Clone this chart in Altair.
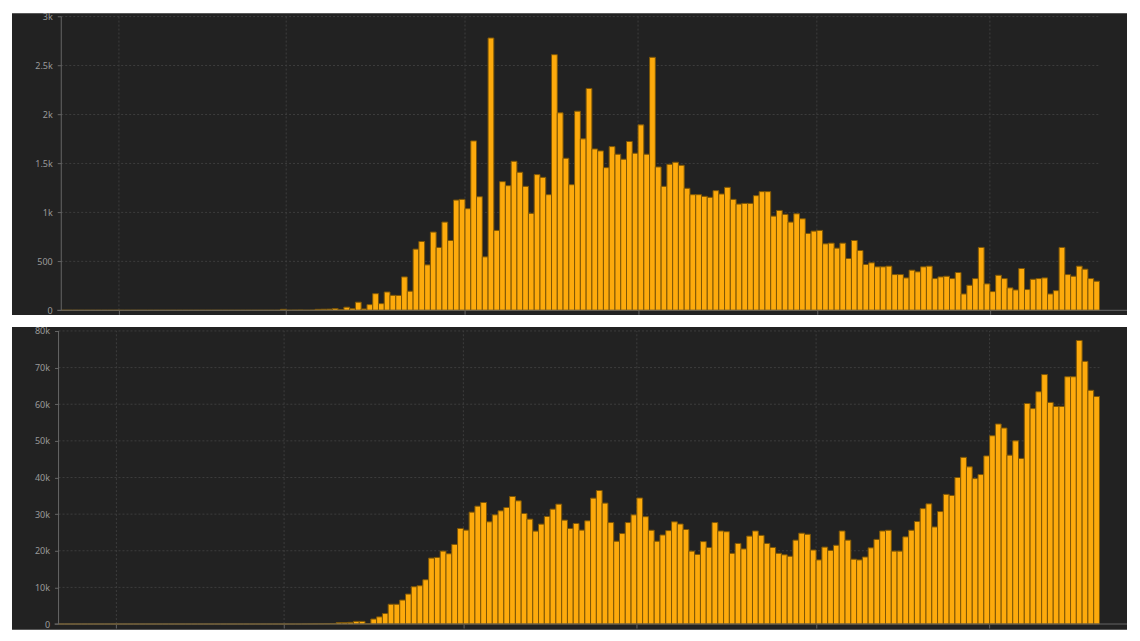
import altair as alt
import pandas as pd

# ---------------- data ----------------
START = "2020-01-22"

deaths = (
    [0] * 38
    + [10, 1, 2, 3, 1, 2, 10, 11, 12, 18, 7, 32, 17, 83, 14, 58, 170, 68, 187, 153,
       152, 341, 195, 625, 703, 464, 799, 642, 901, 713, 1126, 1133, 1038, 1730, 1160, 546, 2781, 816, 1314, 1273,
       1522, 1410, 1266, 990, 1386, 1358, 1181, 2611, 2017, 1553, 1283, 2034, 1751, 2266, 1648, 1628, 1457, 1672, 1594, 1543,
       1724, 1604, 1894, 1594, 2584, 1464, 1266, 1491, 1512, 1481, 1246, 1181, 1181, 1164, 1154, 1222, 1188, 1256, 1133, 1085,
       1092, 1092, 1171, 1212, 1212, 962, 1020, 980, 901, 986, 935, 785, 809, 816, 679, 686, 635, 686, 529, 713,
       611, 468, 485, 444, 444, 451, 365, 365, 331, 410, 393, 444, 451, 324, 341, 348, 324, 386, 167, 256,
       324, 642, 270, 191, 358, 324, 229, 208, 427, 212, 317, 324, 331, 167, 201, 642, 365, 348, 451, 420,
       324, 297]
)

cases = (
    [0] * 42
    + [20, 30, 50, 60, 100, 150,
       364, 364, 455, 727, 727, 91, 1364, 1950, 2860, 5400, 5400, 6545, 8181, 10181, 10454, 12090, 18000, 18180, 19907, 19180,
       21725, 26088, 25634, 30542, 32178, 33178, 27906, 29815, 30906, 31815, 34815, 33633, 30179, 28634, 25361, 27270, 29361, 31361,
       32724, 28361, 26088, 27452, 25634, 28179, 34360, 36451, 33000, 27700, 22600, 24700, 27700, 29800, 34400, 29300, 25600, 22600,
       24300, 25500, 27900, 27300, 25800, 19900, 19000, 22500, 20900, 27700, 25400, 25200, 19300, 22000, 20500, 24000, 25400, 24200,
       22000, 20900, 19300, 18900, 18500, 22900, 24800, 24500, 20200, 17500, 21000, 20100, 21500, 25400, 22900, 17700, 17500, 18300,
       20800, 23100, 25400, 25600, 19900, 19900, 23800, 25600, 28000, 31500, 32800, 26500, 30700, 35400, 35100, 40000, 45500, 42900,
       39700, 40800, 45900, 51400, 54600, 53500, 46100, 50000, 45200, 60200, 58800, 63400, 68100, 60500, 59400, 59400, 67500, 67500,
       77400, 71700, 63800, 62100]
)

month_starts = ["2020-02-01", "2020-03-01", "2020-04-01", "2020-05-01", "2020-06-01", "2020-07-01"]
death_ticks = [0, 500, 1000, 1500, 2000, 2500, 3000]
case_ticks = [0, 10000, 20000, 30000, 40000, 50000, 60000, 70000, 80000]

# ---------------- tables ----------------
t0 = pd.Timestamp(START)
n = len(deaths)
dates = pd.date_range(START, periods=n, freq="D")
day = [(d - t0).days for d in dates]
df = pd.DataFrame({
    "date": dates.strftime("%Y-%m-%d"),
    "d0": day,
    "d1": [d + 1 for d in day],
    "deaths": deaths,
    "cases": cases,
})
month_days = [(pd.Timestamp(m) - t0).days for m in month_starts]

BG = "#222222"
BAR = "#FDAA0C"
BAR_STROKE = "#7d5606"
GRID = "#3d3d3d"
AXIS = "#666666"
LABEL = "#9a9a9a"
FONT = "Noto Sans"
KFMT = "datum.value >= 1000 ? format(datum.value / 1000, '~g') + 'k' : format(datum.value, 'd')"


def panel(field, ticks, W, H, x0_px, px_day, zero_px, px_unit):
    xdom = [-x0_px / px_day, (W - x0_px) / px_day]
    ydom = [-(H - zero_px) / px_unit, zero_px / px_unit]
    xs = alt.Scale(domain=xdom, nice=False, zero=False)
    ys = alt.Scale(domain=ydom, nice=False, zero=False)
    top = ticks[-1]

    xaxis = alt.Axis(values=month_days, labels=False, grid=False, domain=False, ticks=True,
                     tickSize=4, tickColor=AXIS, offset=-(H - zero_px), title=None)
    yaxis = alt.Axis(values=ticks, labelExpr=KFMT, grid=False, domain=False, ticks=True,
                     tickSize=4, tickColor=AXIS, labelPadding=5, labelFont=FONT, labelFontSize=9,
                     labelColor=LABEL, offset=-x0_px, title=None)

    grid_h = pd.DataFrame({"v": ticks[1:], "a": 0, "b": n})
    grid_v = pd.DataFrame({"m": month_days, "lo": 0, "hi": top})
    yline = pd.DataFrame({"x": [0], "lo": [0], "hi": [top]})
    xline = pd.DataFrame({"y": [0], "a": [-0.7], "b": [xdom[1]]})

    gh = alt.Chart(grid_h).mark_rule(color=GRID, strokeDash=[2, 2], strokeWidth=1).encode(
        y=alt.Y("v:Q", scale=ys, axis=yaxis),
        x=alt.X("a:Q", scale=xs, axis=xaxis),
        x2="b:Q",
    )
    gv = alt.Chart(grid_v).mark_rule(color=GRID, strokeDash=[2, 2], strokeWidth=1).encode(
        x=alt.X("m:Q", scale=xs, axis=xaxis),
        y=alt.Y("lo:Q", scale=ys, axis=yaxis),
        y2="hi:Q",
    )
    bars = alt.Chart(df).mark_rect(fill=BAR, stroke=BAR_STROKE, strokeWidth=1).encode(
        x=alt.X("d0:Q", scale=xs, axis=xaxis),
        x2="d1:Q",
        y=alt.Y(f"{field}:Q", scale=ys, axis=yaxis),
        y2=alt.datum(0),
        tooltip=["date:N", f"{field}:Q"],
    )
    yl = alt.Chart(yline).mark_rule(color=AXIS, strokeWidth=1).encode(
        x=alt.X("x:Q", scale=xs, axis=xaxis),
        y=alt.Y("lo:Q", scale=ys, axis=yaxis),
        y2="hi:Q",
    )
    xl = alt.Chart(xline).mark_rule(color=AXIS, strokeWidth=1).encode(
        y=alt.Y("y:Q", scale=ys, axis=yaxis),
        x=alt.X("a:Q", scale=xs, axis=xaxis),
        x2="b:Q",
    )
    return alt.layer(gh, gv, bars, yl, xl).properties(width=W, height=H)


top_chart = panel("deaths", death_ticks, W=1116, H=302, x0_px=49.3, px_day=5.773,
                  zero_px=297.3, px_unit=0.098)
bottom_chart = panel("cases", case_ticks, W=1116, H=303, x0_px=46.6, px_day=5.788,
                     zero_px=297.3, px_unit=0.0036667)

chart = alt.vconcat(top_chart, bottom_chart, spacing=12, bounds="flush").configure(
    background="white",
    padding={"left": 4, "top": 4, "right": 4, "bottom": 4},
).configure_view(fill=BG, stroke=None)

chart.save("out.html", embed_options={"renderer": "svg", "actions": False})
